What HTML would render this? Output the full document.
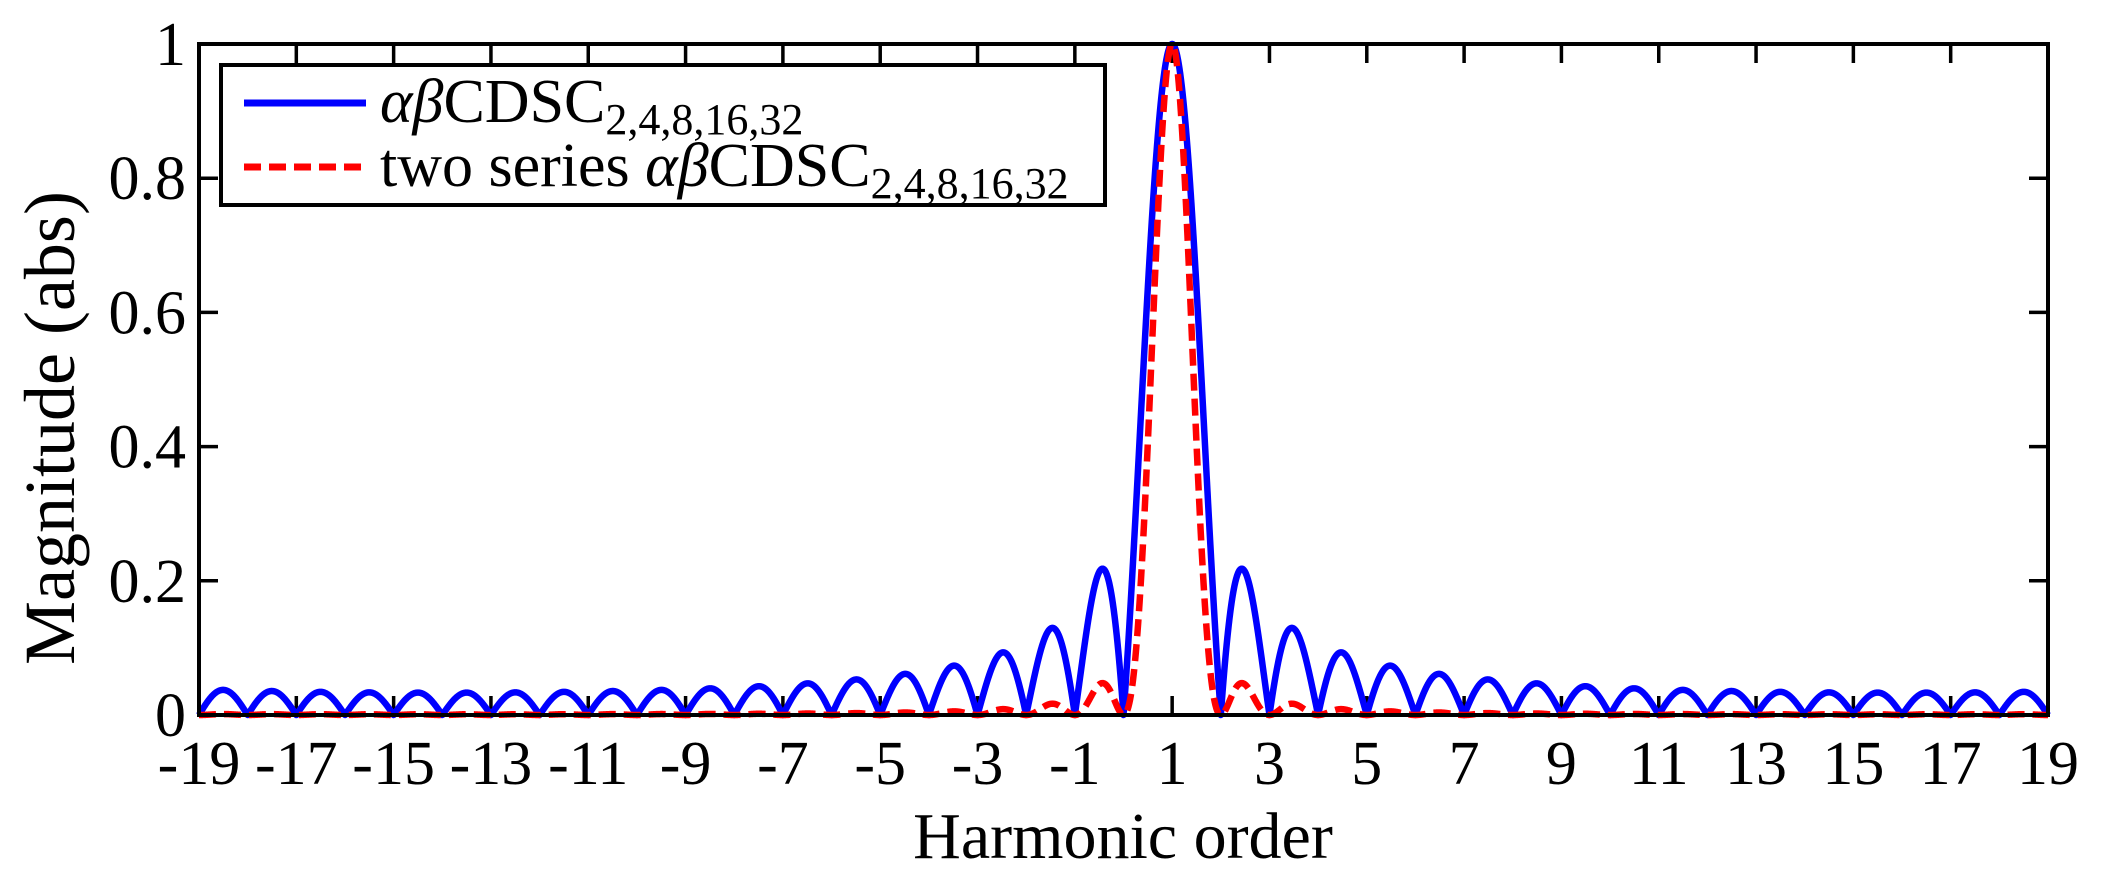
<!DOCTYPE html>
<html><head><meta charset="utf-8"><style>
html,body{margin:0;padding:0;background:#fff;}
svg{display:block;}
text{font-family:"Liberation Serif",serif;fill:#000;}
</style></head><body>
<svg id="s" width="2103" height="876" viewBox="0 0 2103 876" xmlns="http://www.w3.org/2000/svg">
<rect width="2103" height="876" fill="#fff"/>
<g id="ticks"></g>
<path id="blue" fill="none" stroke="#0000ff" stroke-width="6.5" stroke-linejoin="round"/>
<path id="red" fill="none" stroke="#ff0000" stroke-width="6.5" stroke-dasharray="17 8"/>
<rect x="199" y="44" width="1849" height="671" fill="none" stroke="#000" stroke-width="4"/>
<g id="labels" font-size="62"></g>
<text x="1123" y="858" font-size="66" text-anchor="middle">Harmonic order</text>
<text transform="translate(74,428) rotate(-90)" font-size="72" text-anchor="middle">Magnitude (abs)</text>
<rect x="221" y="65" width="884" height="140" fill="#fff" stroke="#000" stroke-width="4"/>
<line x1="244" y1="103" x2="366" y2="103" stroke="#0000ff" stroke-width="7"/>
<line x1="244" y1="167" x2="366" y2="167" stroke="#ff0000" stroke-width="7" stroke-dasharray="17 8"/>
<text x="380" y="122" font-size="62"><tspan font-style="italic">αβ</tspan>CDSC<tspan font-size="44" dy="12">2,4,8,16,32</tspan></text>
<text x="380" y="186" font-size="62">two series <tspan font-style="italic">αβ</tspan>CDSC<tspan font-size="44" dy="12">2,4,8,16,32</tspan></text>
</svg>
<script>
(function(){
var L=199,R=2048,T=44,B=715,W=R-L,H=B-T;
function X(h){return L+(h+19)/38*W;}
function Y(v){return B-v*H;}
var N=30;
function f(h){var o=h-1;if(Math.abs(o)<1e-9)return 1;var s=Math.sin(Math.PI*o),d=N*Math.sin(Math.PI*o/N);return Math.abs(s/d);}
var pb="",pr="";
for(var i=0;i<=7600;i++){var h=-19+38*i/7600;var v=f(h);
pb+=(i?"L":"M")+X(h).toFixed(2)+" "+Y(v).toFixed(2);
pr+=(i?"L":"M")+X(h).toFixed(2)+" "+Y(v*v).toFixed(2);}
document.getElementById("blue").setAttribute("d",pb);
document.getElementById("red").setAttribute("d",pr);
var ns="http://www.w3.org/2000/svg",g=document.getElementById("ticks"),lg=document.getElementById("labels");
function ln(x1,y1,x2,y2){var e=document.createElementNS(ns,"line");e.setAttribute("x1",x1);e.setAttribute("y1",y1);e.setAttribute("x2",x2);e.setAttribute("y2",y2);e.setAttribute("stroke","#000");e.setAttribute("stroke-width","3.5");g.appendChild(e);}
function tx(x,y,s,a){var e=document.createElementNS(ns,"text");e.setAttribute("x",x);e.setAttribute("y",y);e.setAttribute("text-anchor",a);e.textContent=s;lg.appendChild(e);}
for(var h=-19;h<=19;h+=2){var x=X(h);ln(x,B,x,B-19);ln(x,T,x,T+19);tx(x,784,String(h),"middle");}
var yl=["0","0.2","0.4","0.6","0.8","1"];
for(var k=0;k<=5;k++){var y=Y(k/5);ln(L,y,L+19,y);ln(R,y,R-19,y);tx(186,y+21,yl[k],"end");}
})();
</script>
</body></html>
